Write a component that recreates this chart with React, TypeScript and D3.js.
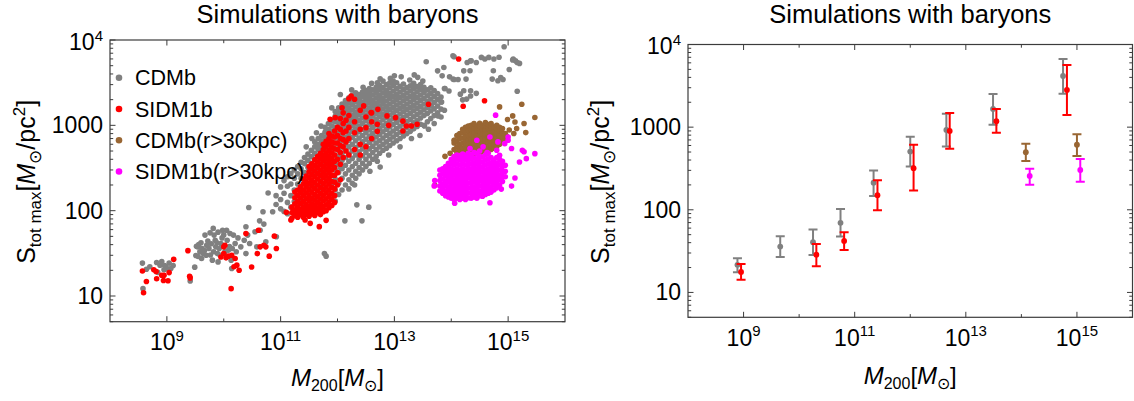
import React from 'react';
import * as d3 from 'd3';

const FONT = "'Liberation Sans', Arial, Helvetica, sans-serif";
const GRAY = '#808080';
const RED = '#ff0000';
const BROWN = '#996633';
const MAGENTA = '#ff00ff';
const FRAME = '#3c3c3c';

const X_DOMAIN = [1e8, 1e16];
const Y_DOMAIN = [5, 1e4];
const X_MAJOR_EXP = [9, 11, 13, 15];
const X_MINOR_EXP = [10, 12, 14];
const Y_MAJOR = [10, 100, 1000];
const TITLE = 'Simulations with baryons';
const LEGEND_LABELS = ['CDMb', 'SIDM1b', 'CDMb(r>30kpc)', 'SIDM1b(r>30kpc)'];
const LEGEND_COLORS = [GRAY, RED, BROWN, MAGENTA];

// ---------- left panel: scatter, [log10 M200, S] ----------
const CDMB_LOW = [[8.57,24.3],[8.64,20.6],[8.82,24.7],[8.91,25.3],[8.96,22.8],[8.95,20.3],[9.04,24.3],[9.11,22.8],[8.98,21.9],[8.58,12.2],[8.84,18.9],[9.01,20.9],[9.41,15],[9.49,21.8],[9.51,29.8],[9.52,38.2],[9.56,40],[9.545,37.7],[9.67,51.7],[9.70,39.4],[9.815,62],[9.83,51.7],[9.86,37.7],[9.89,31.4],[9.64,31.4],[9.61,27.5],[9.765,30.2],[9.80,26.3],[9.95,41.3],[9.98,59],[10.08,34.4],[10.11,54],[10.17,51.7],[10.20,41.3],[10.30,37.7],[10.39,64.8],[10.42,51.7],[10.455,41.3],[10.55,56.6],[10.63,76],[10.705,69.6],[10.64,59],[10.69,97.3],[10.86,97.3],[10.925,49.4],[10.14,21],[10.13,26.3],[10.44,109],[9.90,25.1],[10.05,59],[10.39,31.4],[10.58,37.7],[10.74,43.2],[10.36,45],[9.58,33],[9.62,36],[9.66,34],[9.69,30],[9.72,44],[9.74,36],[9.78,41],[9.82,33],[9.85,45],[9.88,42],[9.92,36],[9.94,30],[9.97,48],[10.0,52],[10.02,33],[10.06,45],[10.1,38],[9.6,42],[9.55,29],[9.76,55],[9.9,56],[10.15,36],[10.22,33],[10.25,48],[8.7,22],[8.88,23],[9.07,21]];

const CDMB_OUT = [[11.77,31.4],[11.80,29.3],[12.13,76],[12.43,76],[12.34,117],[12.55,110],[11.24,97],[10.78,161],[12.75,324],[13.53,982],[13.65,1690],[13.56,5560],[14.03,6540],[13.87,4770],[14.28,5460],[14.34,5700],[14.44,5460],[14.53,6250],[14.59,5980],[14.66,6250],[14.75,5980],[14.93,8340],[15.09,5980],[15.16,5460],[15.13,5700],[14.22,4350],[13.76,4350],[13.84,3800],[13.97,3700],[14.03,3480],[14.22,2540],[14.34,2540],[14.2,1990],[14.34,2210],[14.87,3640],[14.72,3480],[15.16,2510],[14.05,6370],[14.35,5710],[14.84,6270],[15.08,5820],[15.2,5320],[15.02,4520],[14.74,4370],[14.82,3330],[14.91,3440],[14.33,4370],[14.26,3480],[14.12,3440],[14.05,3440],[13.89,2700],[13.96,2530],[14.44,2370],[14.27,2030],[14.16,2320],[13.83,1880],[14.11,765],[13.77,1290],[12.93,3550],[13.12,3700],[13.27,3400],[13.41,3650],[13.5,3300],[12.7,3150],[11.45,560],[11.55,700],[11.63,820],[11.71,980],[12.05,320],[12.9,450],[13.3,700],[12.57,290],[13.1,560],[13.45,760],[13.6,900],[13.7,1050],[12.3,200],[12.7,380],[12.6,3100],[12.75,3500],[13.0,3800],[13.35,3900],[12.45,2800],[12.25,2600],[12.05,2300],[11.9,1600]];

// columns: [log10 M, S, S, ...]
const CDMB_MAIN = [
  [10.92,150,118],[11.0,105,135,190],[11.06,98,160,225],[11.12,92,125,193,250],[11.18,110,150,205,272],
  [11.24,92,128,175,240,300],[11.3,115,150,205,270,330],[11.36,95,135,180,240,310,370],[11.42,120,160,215,280,356,420],
  [11.48,100,140,190,250,320,390,460],[11.54,125,170,225,290,360,430,510],[11.6,105,150,200,265,330,400,470,560,640],
  [11.66,130,175,235,300,370,440,520,600,700],[11.72,110,155,210,275,345,415,490,570,660,760],
  [11.78,135,185,245,315,385,460,540,630,720,830,950],[11.84,120,165,220,290,360,430,510,590,680,790,900,1050],
  [11.9,145,195,260,330,400,480,560,650,750,860,990,1150],[11.96,130,175,235,300,370,450,530,620,720,830,950,1100,1280,1450],
  [12.02,155,210,280,350,430,510,600,700,810,930,1070,1230,1400,1600],[12.08,175,240,310,390,470,560,660,770,890,1020,1170,1350,1550,1780],
  [12.14,200,270,340,420,510,610,720,840,970,1120,1290,1480,1700,1950],[12.2,180,230,300,380,460,560,670,790,920,1060,1220,1400,1610,1850,2100],
  [12.26,210,260,330,410,500,600,720,850,990,1140,1310,1510,1740,2000,2250],[12.32,240,290,360,450,550,660,780,910,1060,1230,1420,1640,1900,2180,2400],
  [12.38,270,320,400,490,590,710,840,980,1140,1320,1520,1760,2020,2300],[12.44,300,360,440,530,640,760,900,1050,1220,1410,1630,1880,2160,2450],
  [12.5,330,400,480,580,690,820,970,1130,1310,1510,1740,2000,2300,2550],[12.56,360,440,530,630,750,880,1030,1200,1390,1610,1860,2140,2450,2700],
  [12.62,400,480,570,680,800,940,1100,1280,1480,1710,1970,2270,2600],[12.68,430,520,620,730,860,1010,1180,1370,1580,1820,2100,2420,2800],
  [12.74,470,560,660,780,920,1080,1260,1460,1690,1950,2250,2600,2950],[12.8,510,600,710,840,990,1160,1350,1560,1800,2080,2400,2780,3300],
  [12.86,540,640,760,900,1060,1240,1440,1670,1930,2230,2580,3000],[12.92,580,690,810,960,1130,1320,1540,1780,2060,2380,2760,3150],
  [12.98,620,730,860,1020,1200,1400,1630,1890,2190,2530,2950,3300],[13.04,660,780,920,1090,1280,1490,1730,2000,2320,2700,3150],
  [13.1,700,830,980,1160,1360,1580,1830,2120,2460,2870],[13.16,750,880,1040,1230,1440,1670,1940,2250,2620,3050],
  [13.22,800,940,1110,1310,1530,1780,2060,2390,2780],[13.28,850,1000,1180,1390,1620,1880,2180,2530,2900],
  [13.34,910,1070,1260,1480,1720,2000,2320,2700,3100],[13.4,970,1140,1340,1570,1830,2130,2480,2850],
  [13.46,1030,1220,1430,1670,1950,2270,2650,3000],[13.52,1000,1300,1520,1780,2080,2420,2800],
  [13.58,1100,1380,1620,1900,2220,2600],[13.64,1200,1470,1730,2030,2380,2750],[13.7,1300,1560,1850,2170,2550],
  [13.76,1400,1680,2000,2350],[13.82,1250,1550,1880,2150],[13.88,1500,2700]
];

const SIDM_LOW = [[8.57,19.6],[8.59,10.9],[8.64,14.8],[8.77,20.3],[8.81,19.4],[8.82,15.9],[8.91,17.5],[8.95,17.5],[8.94,15.2],[9.02,15.1],[9.04,18.8],[9.12,26.9],[9.37,34],[9.41,16.3],[9.40,17],[10.0,31.4],[10.02,39.4],[10.08,29.3],[10.14,30],[10.20,27.5],[9.95,28.7],[10.27,20],[10.23,23],[10.13,12.2],[10.39,54],[10.61,59],[10.64,37.7],[10.705,39.4],[10.74,37.7],[10.59,31.4],[10.80,29.3],[10.89,50.3],[10.925,36],[10.49,21.9],[10.0,37.7],[10.04,28],[10.18,22]];

const SIDM_OUT = [[11.18,77.6],[11.43,77.6],[11.52,71],[11.68,65],[11.80,77],[11.1,96],[14.13,5980],[14.585,1940],[14.21,1675],[11.96,1230],[11.87,1180],[12.24,2210],[12.3,2020],[12.08,1610],[12.46,1690],[12.59,1410],[12.71,1540],[12.87,1290],[13.02,1230],[13.21,982]];

const SIDM_MAIN = [
  [11.2,82,95,110],[11.25,88,102,120,142,165],[11.3,84,96,110,128,150,175],[11.35,90,104,121,141,164,190],
  [11.4,84,96,110,128,150,175,205,235],[11.45,90,103,118,138,162,190,220,255],[11.5,86,98,112,130,152,178,208,245,285,330],
  [11.55,92,105,120,140,165,195,228,265,310,355],[11.6,88,100,115,133,155,182,213,250,292,340,395],
  [11.65,95,108,125,146,170,200,235,275,320,372,430],[11.7,90,103,118,137,160,188,220,258,300,350,405,470],
  [11.75,97,112,130,152,178,208,243,283,330,385,445,520,600],[11.8,100,117,138,162,190,222,260,303,353,410,475,560,650],
  [11.85,108,126,148,175,205,240,280,326,380,440,510,600,700,800],[11.9,115,135,160,188,220,258,300,350,408,475,550,640,750],
  [11.95,125,150,180,215,260,320,380,450,530,620,730,860],[12.0,200,280,400,520,620,760,950],[12.05,230,350,480,580,700,900,1200],
  [12.1,420,560,680,820,1050,1400],[12.15,500,640,860,1150],[12.2,450,700,950,1300,2050],[12.3,520,820,1100],
  [12.4,450,600,900,1500],[12.5,560,940,1250],[12.6,700,1100,1400],[12.7,850,1030],[12.9,1000],[13.15,860,1120],
  [13.3,982],[13.4,1030],[13.6,1770]
];

const CDMB30_MAIN = [
  [14.05,520,620,668],[14.1,480,560,650,760],[14.15,450,520,600,700,800],[14.2,470,540,620,710,820],
  [14.25,440,500,570,650,740,850,950],[14.3,460,520,590,670,760,870,980],[14.35,480,540,610,690,780,890,1000],
  [14.4,460,520,580,650,730,830,940,1050],[14.45,480,540,600,680,770,870,980],[14.5,470,530,600,670,750,850,960,1060],
  [14.55,490,550,620,700,790,890,1000],[14.6,480,540,610,690,780,880,990,1080],[14.65,500,560,640,720,810,910,1020],
  [14.7,520,580,660,740,830,930,1050],[14.75,540,600,680,760,850,960],[14.8,560,630,710,800,900,1000],
  [14.85,600,680,760,860,950],[14.9,640,730,820,920],[14.95,700,800]
];
const CDMB30_OUT = [[14.85,1644],[15.24,1770],[15.47,1236],[15.08,1290],[14.99,1170],[15.12,1096],[15.28,1050],[15.31,822],[15.10,801],[15.15,917],[14.06,668],[13.89,433],[13.71,198],[15.02,880],[14.97,750],[13.98,470],[14.2,900]];

const SIDM30_MAIN = [
  [13.8,170,195,225,260,300],[13.85,160,180,205,235,270,310],[13.9,150,170,195,222,255,290,330],
  [13.95,145,165,188,215,245,280,320,360],[14.0,140,160,182,208,238,272,310,355,400],
  [14.05,135,155,177,202,230,263,300,343,390,430],[14.1,140,160,183,209,238,272,310,354,405,450],
  [14.15,135,155,177,202,230,263,300,343,392,440],[14.2,140,160,183,209,238,272,310,354,405,460],
  [14.25,135,155,177,202,230,263,300,343,392,445],[14.3,142,162,185,211,241,275,314,358,410,470],
  [14.35,140,160,183,209,238,272,310,354,405,455],[14.4,145,165,188,215,245,280,320,365,415,480],
  [14.45,140,160,183,209,238,272,310,354,405,470],[14.5,150,170,195,222,253,289,330,377,430,500],
  [14.55,148,168,192,219,250,285,325,371,425],[14.6,155,177,202,230,263,300,343,392,450],
  [14.65,160,183,209,238,272,310,354,405,470],[14.7,165,188,215,245,280,320,365,420],
  [14.75,175,200,228,260,297,340,390],[14.8,185,212,242,276,315,360,420],[14.85,200,230,262,300,345,400],
  [14.9,220,252,288,330,380],[14.95,250,290,340]
];
const SIDM30_OUT = [[14.78,1316],[15.0,731],[15.25,509],[15.28,490],[15.47,466],[15.12,241],[15.06,194],[14.68,124],[15.2,372],[15.32,407],[14.88,179],[14.06,122],[13.71,226],[13.7,195],[14.45,668],[14.68,730],[14.82,640],[14.94,610],[14.56,560],[14.33,535],[14.8,510],[14.63,480],[14.15,425],[14.06,410],[15.0,668],[15.06,535],[14.85,445]];

// ---------- right panel: binned means with error bars ----------
const CDMB_BIN_M = [8.89, 9.66, 10.25, 10.745, 11.34, 12.0, 12.65, 13.49, 14.75];
const CDMB_BIN_S = [21.6, 35.9, 40.6, 69.5, 213, 506, 925, 1660, 4160];
const CDMB_BIN_LO = [17.6, 26.9, 28.3, 47.4, 147, 333, 585, 1070, 2530];
const CDMB_BIN_HI = [26, 47.9, 57.7, 102, 299, 767, 1452, 2520, 6680];

const SIDM_BIN_M = [8.955, 10.31, 10.81, 11.41, 12.06, 12.71, 13.55, 14.82];
const SIDM_BIN_S = [17.7, 28.6, 42, 150, 319, 900, 1180, 2820];
const SIDM_BIN_LO = [14.2, 20.8, 32.7, 98.5, 171, 548, 855, 1405];
const SIDM_BIN_HI = [22, 38.5, 53.6, 227, 612, 1480, 1660, 5650];

const CDMB30_BIN_M = [14.08, 15.0];
const CDMB30_BIN_S = [497, 612];
const CDMB30_BIN_LO = [390, 446];
const CDMB30_BIN_HI = [631, 822];

const SIDM30_BIN_M = [14.15, 15.06];
const SIDM30_BIN_S = [257, 303];
const SIDM30_BIN_LO = [201, 219];
const SIDM30_BIN_HI = [314, 411];

const expand = (cols: number[][]) => cols.flatMap(c => c.slice(1).map(s => [c[0], s]));

const LEFT_SERIES = [
  { color: GRAY, pts: [...CDMB_LOW, ...expand(CDMB_MAIN), ...CDMB_OUT] },
  { color: RED, pts: [...SIDM_LOW, ...expand(SIDM_MAIN), ...SIDM_OUT] },
  { color: BROWN, pts: [...expand(CDMB30_MAIN), ...CDMB30_OUT] },
  { color: MAGENTA, pts: [...expand(SIDM30_MAIN), ...SIDM30_OUT] },
];

const RIGHT_SERIES = [
  { color: GRAY, m: CDMB_BIN_M, s: CDMB_BIN_S, lo: CDMB_BIN_LO, hi: CDMB_BIN_HI },
  { color: RED, m: SIDM_BIN_M, s: SIDM_BIN_S, lo: SIDM_BIN_LO, hi: SIDM_BIN_HI },
  { color: BROWN, m: CDMB30_BIN_M, s: CDMB30_BIN_S, lo: CDMB30_BIN_LO, hi: CDMB30_BIN_HI },
  { color: MAGENTA, m: SIDM30_BIN_M, s: SIDM30_BIN_S, lo: SIDM30_BIN_LO, hi: SIDM30_BIN_HI },
];

type Scale = d3.ScaleLogarithmic<number, number>;

function Frame({ xs, ys, ylabelX, xlabelY, titleY }: { xs: Scale; ys: Scale; ylabelX: number; xlabelY: number; titleY: number }) {
  const [x0, x1] = xs.range();
  const [y1, y0] = ys.range();
  const majLen = 5.5, minLen = 3.2;
  const yMinor: number[] = [];
  [1, 10, 100, 1000].forEach(d => { for (let k = 2; k <= 9; k++) { const v = k * d; if (v >= 5 && v < 1e4) yMinor.push(v); } });
  const cx = (x0 + x1) / 2;
  const cy = (y0 + y1) / 2;
  return (
    <g fontFamily={FONT}>
      <rect x={x0} y={y0} width={x1 - x0} height={y1 - y0} fill="none" stroke={FRAME} strokeWidth={1.2} />
      {[...Y_MAJOR, 1e4].map(v => (
        <g key={'ym' + v}>
          <line x1={x0} x2={x0 + majLen} y1={ys(v)} y2={ys(v)} stroke={FRAME} />
          <line x1={x1} x2={x1 - majLen} y1={ys(v)} y2={ys(v)} stroke={FRAME} />
        </g>
      ))}
      {yMinor.map(v => (
        <g key={'yn' + v}>
          <line x1={x0} x2={x0 + minLen} y1={ys(v)} y2={ys(v)} stroke={FRAME} />
          <line x1={x1} x2={x1 - minLen} y1={ys(v)} y2={ys(v)} stroke={FRAME} />
        </g>
      ))}
      {X_MAJOR_EXP.map(e => (
        <g key={'xm' + e}>
          <line x1={xs(10 ** e)} x2={xs(10 ** e)} y1={y1} y2={y1 - majLen} stroke={FRAME} />
          <line x1={xs(10 ** e)} x2={xs(10 ** e)} y1={y0} y2={y0 + majLen} stroke={FRAME} />
        </g>
      ))}
      {X_MINOR_EXP.map(e => (
        <g key={'xn' + e}>
          <line x1={xs(10 ** e)} x2={xs(10 ** e)} y1={y1} y2={y1 - minLen} stroke={FRAME} />
          <line x1={xs(10 ** e)} x2={xs(10 ** e)} y1={y0} y2={y0 + minLen} stroke={FRAME} />
        </g>
      ))}
      {Y_MAJOR.map(v => (
        <text key={'yl' + v} x={x0 - 7} y={ys(v) + 8} fontSize={23} textAnchor="end" fill="#000">{String(v)}</text>
      ))}
      <text x={x0 - 7} y={ys(1e4) + 9.5} fontSize={23} textAnchor="end" fill="#000">
        10<tspan fontSize={15} dy={-9}>4</tspan>
      </text>
      {X_MAJOR_EXP.map(e => (
        <text key={'xl' + e} x={xs(10 ** e)} y={y1 + 28.5} fontSize={23} textAnchor="middle" fill="#000">
          10<tspan fontSize={15} dy={-9.5}>{String(e)}</tspan>
        </text>
      ))}
      <text x={cx} y={titleY} fontSize={25.5} textAnchor="middle" fill="#000">{TITLE}</text>
      <text x={cx} y={xlabelY} fontSize={24} textAnchor="middle" fill="#000">
        <tspan fontStyle="italic">M</tspan>
        <tspan fontSize={16} dy={5}>200</tspan>
        <tspan dy={-5}>[</tspan>
        <tspan fontStyle="italic">M</tspan>
        <tspan fontSize={16} dy={5}>⊙</tspan>
        <tspan dy={-5}>]</tspan>
      </text>
      <text transform={`translate(${ylabelX},${cy + 1}) rotate(-90)`} fontSize={25} textAnchor="middle" fill="#000">
        <tspan>S</tspan>
        <tspan fontSize={17} dy={6}>tot max</tspan>
        <tspan dy={-6}>[</tspan>
        <tspan fontStyle="italic">M</tspan>
        <tspan fontSize={17} dy={6}>⊙</tspan>
        <tspan dy={-6}>/pc</tspan>
        <tspan fontSize={17} dy={-10}>2</tspan>
        <tspan dy={10}>]</tspan>
      </text>
    </g>
  );
}

export default function App() {
  const xsL = d3.scaleLog().domain(X_DOMAIN).range([110, 565]);
  const ysL = d3.scaleLog().domain(Y_DOMAIN).range([321.7, 40]);
  const xsR = d3.scaleLog().domain(X_DOMAIN).range([688, 1132.5]);
  const ysR = d3.scaleLog().domain(Y_DOMAIN).range([317.3, 44.5]);
  const legendY = [77.7, 109, 140.3, 171.5];

  return (
    <svg width={1134} height={401} style={{ position: 'absolute', left: 0, top: 0, background: '#fff' }}>
      <rect width={1134} height={401} fill="#fff" />
      <defs>
        <clipPath id="clipL"><rect x={110} y={40} width={455} height={281.7} /></clipPath>
        <clipPath id="clipR"><rect x={688} y={44.5} width={444.5} height={272.8} /></clipPath>
      </defs>
      <g clipPath="url(#clipL)">
        {LEFT_SERIES.map((ser, i) => (
          <g key={i} fill={ser.color}>
            {ser.pts.map((p, j) => (
              <circle key={j} cx={xsL(10 ** p[0])} cy={ysL(p[1])} r={2.8} />
            ))}
          </g>
        ))}
      </g>
      <Frame xs={xsL} ys={ysL} ylabelX={35} xlabelY={386} titleY={23} />
      <g fontFamily={FONT}>
        {LEGEND_LABELS.map((lab, i) => (
          <g key={lab}>
            <circle cx={119} cy={legendY[i]} r={3.3} fill={LEGEND_COLORS[i]} />
            <text x={135} y={legendY[i] + 7.5} fontSize={21.5} fill="#000">{lab}</text>
          </g>
        ))}
      </g>
      <g clipPath="url(#clipR)">
        {RIGHT_SERIES.map((ser, i) => (
          <g key={i} stroke={ser.color} fill={ser.color}>
            {ser.m.map((m, j) => {
              const x = xsR(10 ** m);
              const yh = ysR(ser.hi[j]);
              const yl = ysR(ser.lo[j]);
              return (
                <g key={j}>
                  <line x1={x} x2={x} y1={yh} y2={yl} strokeWidth={2} />
                  <line x1={x - 4.5} x2={x + 4.5} y1={yh} y2={yh} strokeWidth={2} />
                  <line x1={x - 4.5} x2={x + 4.5} y1={yl} y2={yl} strokeWidth={2} />
                  <circle cx={x} cy={ysR(ser.s[j])} r={2.9} stroke="none" />
                </g>
              );
            })}
          </g>
        ))}
      </g>
      <Frame xs={xsR} ys={ysR} ylabelX={609} xlabelY={384} titleY={23} />
    </svg>
  );
}
